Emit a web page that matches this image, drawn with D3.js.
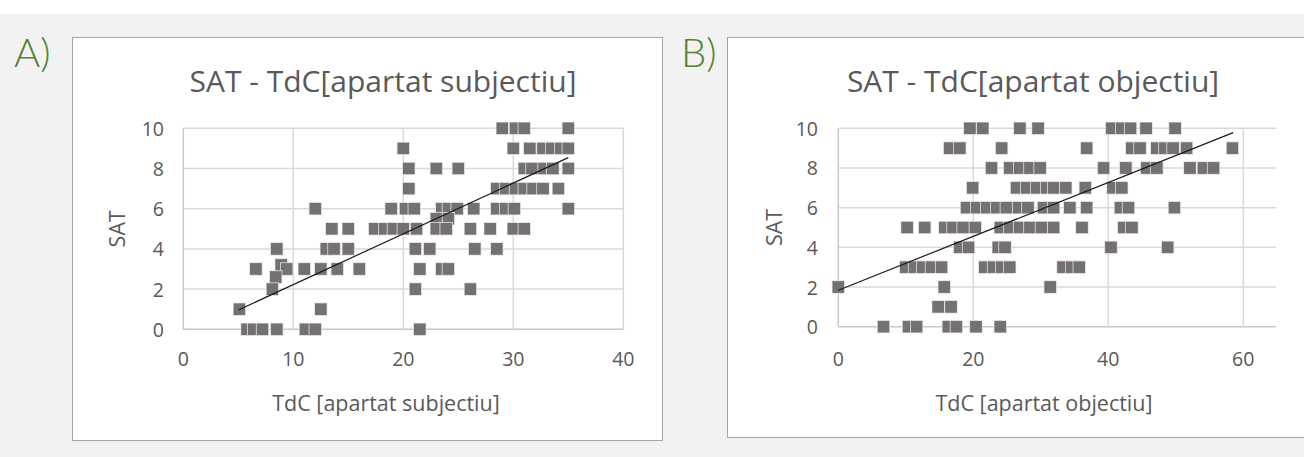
<!DOCTYPE html>
<html>
<head>
<meta charset="utf-8">
<script src="https://cdn.jsdelivr.net/npm/d3@7"></script>
<style>
  body { margin: 0; background: #fff; }
  svg { display: block; }
</style>
</head>
<body>
<div id="chart"></div>
<script>
// SAT vs TdC scatter plots, two panels
const width = 1304;
const height = 457;

// Panel A: TdC [apartat subjectiu] (x) vs SAT (y)
const tdcA = [
  29, 30.2, 31, 35,
  20, 30, 31.5, 32.7, 33.5, 34.3, 35,
  20.5, 23, 25, 31, 31.7, 32.8, 33.6, 35,
  20.5, 28.5, 29.3, 30.2, 31, 31.8, 32.7, 34.1,
  12, 18.9, 20.2, 21, 23.5, 24.1, 24.9, 26.4, 28.5, 29.3, 30.1, 35,
  23, 24.1,
  13.5, 15, 17.4, 18.3, 19.1, 20, 21.2, 23, 23.9, 26.1, 27.9, 30, 31,
  8.5, 13, 13.7, 15, 21.1, 22.4, 26.5, 28.5,
  6.6, 11, 12.5, 14, 16, 21.5, 23.5, 24.1,
  8.9, 9.4, 8.4,
  8.1, 21.1, 26.1,
  5.1, 12.5,
  5.8, 6.4, 7.2, 8.5, 11.1, 12.0, 21.5
];
const satA = [
  10, 10, 10, 10,
  9, 9, 9, 9, 9, 9, 9,
  8, 8, 8, 8, 8, 8, 8, 8,
  7, 7, 7, 7, 7, 7, 7, 7,
  6, 6, 6, 6, 6, 6, 6, 6, 6, 6, 6, 6,
  5.5, 5.5,
  5, 5, 5, 5, 5, 5, 5, 5, 5, 5, 5, 5, 5,
  4, 4, 4, 4, 4, 4, 4, 4,
  3, 3, 3, 3, 3, 3, 3, 3,
  3.2, 3, 2.6,
  2, 2, 2,
  1, 1,
  0, 0, 0, 0, 0, 0, 0
];
// trend line end points
const trendA = [[5, 0.96], [35, 8.54]];

// Panel B: TdC [apartat objectiu] (x) vs SAT (y)
const tdcB = [
  19.5, 21.4, 26.9, 29.6, 40.5, 42.0, 43.3, 45.6, 49.9,
  16.5, 18.0, 24.2, 36.8, 43.5, 44.7, 47.2, 48.4, 49.6, 51.6, 58.4,
  22.7, 25.4, 26.9, 28.4, 29.9, 39.3, 42.6, 45.7, 47.2, 52.1, 54.1, 55.6,
  19.9, 26.4, 27.9, 29.4, 30.9, 31.9, 33.7, 36.6, 40.7, 42.0,
  19.0, 20.5, 22.0, 23.5, 24.9, 26.7, 28.1, 30.4, 31.9, 34.3, 36.8, 41.8, 43.0, 49.8,
  10.2, 12.8, 15.8, 17.0, 18.5, 20.3, 24.0, 25.4, 26.9, 28.4, 30.1, 31.9, 36.1, 42.3, 43.5,
  18.0, 19.3, 23.7, 24.7, 40.4, 48.8,
  10.0, 11.3, 12.5, 13.8, 15.3, 21.7, 23.0, 24.2, 25.4, 33.3, 34.6, 35.7,
  0, 15.7, 31.4,
  14.8, 16.7,
  6.7, 10.4, 11.6, 16.3, 17.5, 20.4, 24.0
];
const satB = [
  10, 10, 10, 10, 10, 10, 10, 10, 10,
  9, 9, 9, 9, 9, 9, 9, 9, 9, 9, 9,
  8, 8, 8, 8, 8, 8, 8, 8, 8, 8, 8, 8,
  7, 7, 7, 7, 7, 7, 7, 7, 7, 7,
  6, 6, 6, 6, 6, 6, 6, 6, 6, 6, 6, 6, 6, 6,
  5, 5, 5, 5, 5, 5, 5, 5, 5, 5, 5, 5, 5, 5, 5,
  4, 4, 4, 4, 4, 4,
  3, 3, 3, 3, 3, 3, 3, 3, 3, 3, 3, 3,
  2, 2, 2,
  1, 1,
  0, 0, 0, 0, 0, 0, 0
];
const trendB = [[0, 1.84], [58.5, 9.78]];

const yTicks = [0, 2, 4, 6, 8, 10];
const xTicksA = [0, 10, 20, 30, 40];
const xTicksB = [0, 20, 40, 60];

const font = "'Open Sans', sans-serif";
const textColor = "#595959";
const markerColor = "#767171";

const svg = d3.select("#chart")
    .append("svg")
    .attr("width", width)
    .attr("height", height);

// page background
svg.append("rect")
    .attr("x", 0).attr("y", 14)
    .attr("width", width).attr("height", height - 14)
    .attr("fill", "#f2f2f2");

const panels = [
    {
        letter: "A)", letterX: 14,
        box: [72.5, 37.5, 590, 403],
        plot: [183.3, 128.3, 623.3, 329.3],
        xDomain: [0, 40], xTicks: xTicksA,
        title: "SAT - TdC[apartat subjectiu]", titleX: 383,
        xTitle: "TdC [apartat subjectiu]", xTitleX: 386,
        yTitleX: 125, yLabelX: 164,
        xs: tdcA, ys: satA, trend: trendA
    },
    {
        letter: "B)", letterX: 681,
        box: [727.5, 37.5, 600, 400],
        plot: [838.3, 128.3, 1276, 326.7],
        xDomain: [0, 64.85], xTicks: xTicksB,
        title: "SAT - TdC[apartat objectiu]", titleX: 1033,
        xTitle: "TdC [apartat objectiu]", xTitleX: 1044,
        yTitleX: 782, yLabelX: 818,
        xs: tdcB, ys: satB, trend: trendB
    }
];

panels.forEach(p => {
    const [l, t, r, b] = p.plot;
    const x = d3.scaleLinear().domain(p.xDomain).range([l, r]);
    const y = d3.scaleLinear().domain([0, 10]).range([b, t]);
    const g = svg.append("g");

    // panel letter
    svg.append("text")
        .attr("x", p.letterX).attr("y", 67)
        .attr("font-family", "Lato, sans-serif")
        .attr("font-weight", 300)
        .attr("font-size", 40)
        .attr("fill", "#548235")
        .text(p.letter);

    // chart box
    g.append("rect")
        .attr("x", p.box[0]).attr("y", p.box[1])
        .attr("width", p.box[2]).attr("height", p.box[3])
        .attr("fill", "#fff")
        .attr("stroke", "#a6a6a6")
        .attr("stroke-width", 1);

    // title
    g.append("text")
        .attr("x", p.titleX).attr("y", 92)
        .attr("text-anchor", "middle")
        .attr("font-family", font)
        .attr("font-size", 30)
        .attr("fill", textColor)
        .text(p.title);

    // gridlines
    g.append("g").selectAll("line")
        .data(yTicks)
        .join("line")
        .attr("x1", l).attr("x2", r)
        .attr("y1", d => y(d)).attr("y2", d => y(d))
        .attr("stroke", d => d === 0 ? "#c8c8c8" : "#d9d9d9")
        .attr("stroke-width", 1.5);

    g.append("g").selectAll("line")
        .data(p.xTicks)
        .join("line")
        .attr("x1", d => x(d)).attr("x2", d => x(d))
        .attr("y1", t).attr("y2", b)
        .attr("stroke", d => d === 0 ? "#c8c8c8" : "#d9d9d9")
        .attr("stroke-width", 1.5);

    // tick labels
    g.append("g").selectAll("text")
        .data(yTicks)
        .join("text")
        .attr("x", p.yLabelX)
        .attr("y", d => y(d) + 7.5)
        .attr("text-anchor", "end")
        .attr("font-family", font)
        .attr("font-size", 19.5)
        .attr("fill", textColor)
        .text(d => d);

    g.append("g").selectAll("text")
        .data(p.xTicks)
        .join("text")
        .attr("x", d => x(d))
        .attr("y", 366)
        .attr("text-anchor", "middle")
        .attr("font-family", font)
        .attr("font-size", 19.5)
        .attr("fill", textColor)
        .text(d => d);

    // axis titles
    g.append("text")
        .attr("x", p.xTitleX).attr("y", 411)
        .attr("text-anchor", "middle")
        .attr("font-family", font)
        .attr("font-size", 21.5)
        .attr("fill", textColor)
        .text(p.xTitle);

    g.append("text")
        .attr("transform", `translate(${p.yTitleX},${(t + b) / 2}) rotate(-90)`)
        .attr("text-anchor", "middle")
        .attr("font-family", font)
        .attr("font-size", 21.5)
        .attr("fill", textColor)
        .text("SAT");

    // markers
    const size = 12.5;
    g.append("g").selectAll("rect")
        .data(d3.range(p.xs.length))
        .join("rect")
        .attr("x", i => x(p.xs[i]) - size / 2)
        .attr("y", i => y(p.ys[i]) - size / 2)
        .attr("width", size).attr("height", size)
        .attr("fill", markerColor)
        .attr("stroke", "#efefef")
        .attr("stroke-width", 0.7);

    // linear trend line
    g.append("path")
        .datum(p.trend)
        .attr("d", d3.line().x(d => x(d[0])).y(d => y(d[1])))
        .attr("fill", "none")
        .attr("stroke", "#1a1a1a")
        .attr("stroke-width", 1.2);
});
</script>
</body>
</html>
